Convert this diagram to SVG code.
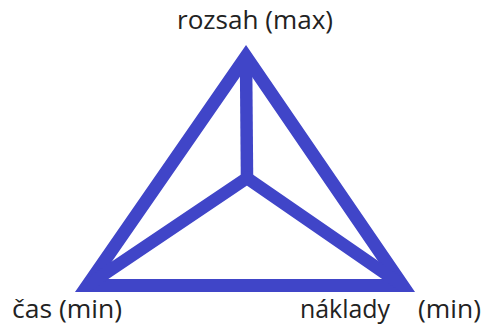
<svg xmlns="http://www.w3.org/2000/svg" width="483" height="331" viewBox="0 0 483 331">
<style>
.e{fill:none;stroke:#4045C8;stroke-width:12.5;stroke-linejoin:miter;stroke-miterlimit:10}
.o{stroke-width:13}
.t{font-family:"Open Sans","Noto Sans","DejaVu Sans",sans-serif;font-size:25.5px;fill:#222}
</style>
<rect width="483" height="331" fill="#fff"/>
<g id="connectors">
<polygon class="e o" points="246,56.5 87.4,285.5 402.7,285.5"/>
<polyline class="e" points="246,57 247,178"/>
<polyline class="e" points="87.4,285.5 247,178 402.7,285.5"/>
</g>
<g id="rozsah"><text class="t" x="177" y="29" textLength="156" lengthAdjust="spacingAndGlyphs">rozsah (max)</text></g>
<g id="cas"><text class="t" x="12" y="318" textLength="110" lengthAdjust="spacingAndGlyphs">čas (min)</text></g>
<g id="naklady"><text class="t" x="300" y="318" textLength="90" lengthAdjust="spacingAndGlyphs">náklady</text><text class="t" x="418" y="318" textLength="63" lengthAdjust="spacingAndGlyphs">(min)</text></g>
</svg>
